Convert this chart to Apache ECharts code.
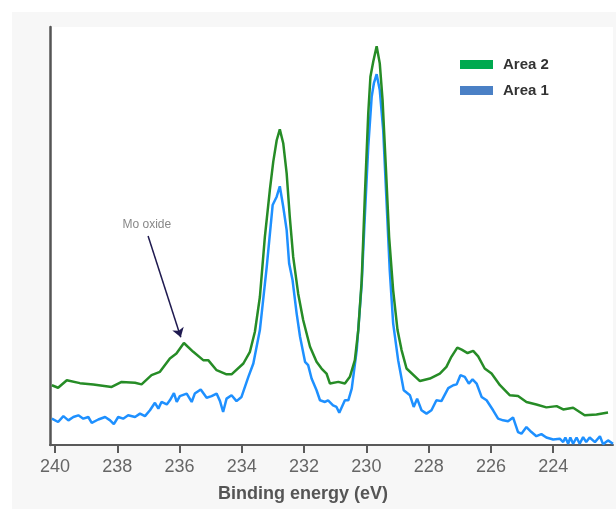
<!DOCTYPE html>
<html>
<head>
<meta charset="utf-8">
<script src="https://cdn.jsdelivr.net/npm/echarts@6/dist/echarts.min.js"></script>
<style>
  html, body { margin: 0; padding: 0; background: #fff; }
  #wrap { position: relative; width: 616px; height: 509px; background: #fff; }
  #chart { position: absolute; left: 12px; top: 12px; width: 604px; height: 497px; background: #f7f7f7; }
</style>
</head>
<body>
<div id="wrap"><div id="chart"></div></div>
<script>
// binding energy (eV) and intensity (arb. units)
const xArea2 = [240.1, 239.9, 239.62, 239.2, 238.77, 238.18, 237.86, 237.43, 237.22, 236.9, 236.63, 236.31, 236.1, 235.86, 235.56, 235.24, 235.08, 234.81, 234.49, 234.33, 233.95, 233.74, 233.58, 233.42, 233.26, 233.1, 232.99, 232.88, 232.78, 232.67, 232.56, 232.46, 232.35, 232.19, 232.03, 231.81, 231.6, 231.44, 231.28, 231.17, 230.9, 230.69, 230.53, 230.37, 230.26, 230.15, 230.05, 229.94, 229.87, 229.78, 229.67, 229.57, 229.48, 229.37, 229.27, 229.14, 229.0, 228.87, 228.71, 228.28, 227.96, 227.64, 227.43, 227.27, 227.08, 226.94, 226.75, 226.57, 226.41, 226.2, 225.98, 225.71, 225.39, 225.13, 224.86, 224.54, 224.22, 223.89, 223.68, 223.36, 222.99, 222.61, 222.24];
const yArea2 = [14.3, 13.7, 15.5, 14.8, 14.5, 13.9, 15.1, 14.9, 14.5, 16.7, 17.5, 20.7, 21.9, 24.4, 22.3, 20.3, 20.3, 17.9, 16.9, 16.9, 19.5, 22.3, 27.1, 35.4, 49.8, 61.0, 67.8, 72.9, 75.5, 72.2, 65.0, 54.6, 45.0, 36.2, 29.9, 23.5, 19.9, 18.3, 17.1, 14.7, 15.1, 14.7, 16.3, 20.3, 27.5, 39.4, 59.4, 79.3, 88.1, 91.7, 95.4, 91.3, 82.5, 65.8, 49.8, 37.0, 27.5, 22.7, 18.3, 15.3, 15.9, 17.1, 18.7, 21.1, 23.3, 22.8, 22.0, 22.5, 21.2, 18.3, 17.1, 14.3, 11.9, 11.7, 10.3, 9.7, 9.0, 9.3, 8.5, 8.9, 7.1, 7.3, 7.8];

const xArea1 = [240.1, 239.9, 239.73, 239.57, 239.41, 239.25, 239.09, 238.93, 238.82, 238.61, 238.39, 238.23, 238.11, 237.97, 237.81, 237.65, 237.43, 237.27, 237.11, 236.95, 236.79, 236.68, 236.58, 236.41, 236.31, 236.18, 236.09, 235.99, 235.77, 235.61, 235.51, 235.32, 235.13, 234.97, 234.81, 234.7, 234.6, 234.49, 234.33, 234.17, 234.01, 233.79, 233.63, 233.42, 233.2, 233.01, 232.88, 232.78, 232.67, 232.56, 232.48, 232.37, 232.24, 232.13, 231.97, 231.87, 231.76, 231.6, 231.49, 231.33, 231.23, 231.07, 230.96, 230.87, 230.69, 230.58, 230.47, 230.31, 230.15, 230.05, 229.94, 229.83, 229.76, 229.67, 229.57, 229.46, 229.35, 229.25, 229.14, 228.98, 228.8, 228.6, 228.48, 228.37, 228.23, 228.07, 227.91, 227.75, 227.59, 227.37, 227.21, 227.1, 226.98, 226.84, 226.71, 226.59, 226.46, 226.3, 226.14, 225.93, 225.77, 225.61, 225.45, 225.29, 225.13, 225.02, 224.86, 224.7, 224.54, 224.38, 224.22, 224.0, 223.79, 223.68, 223.61, 223.52, 223.45, 223.36, 223.25, 223.15, 223.04, 222.94, 222.83, 222.66, 222.5, 222.4, 222.24, 222.08];
const yArea1 = [6.3, 5.5, 6.9, 5.9, 6.7, 7.1, 6.3, 6.7, 5.3, 6.1, 6.7, 5.9, 5.0, 6.7, 6.3, 7.1, 6.7, 7.5, 6.9, 8.3, 10.1, 8.7, 10.3, 9.7, 10.7, 12.4, 10.3, 11.7, 12.3, 10.3, 12.3, 13.3, 11.3, 11.7, 12.3, 10.5, 7.9, 11.1, 11.9, 10.5, 11.5, 16.3, 19.5, 27.5, 42.6, 57.4, 59.4, 61.9, 57.0, 51.4, 43.4, 39.4, 31.5, 25.9, 19.9, 19.1, 15.9, 13.1, 10.7, 10.3, 10.7, 9.5, 9.1, 7.7, 10.7, 10.7, 13.5, 22.7, 38.6, 54.6, 71.3, 83.3, 86.5, 88.7, 84.9, 75.3, 57.8, 41.8, 29.1, 20.3, 13.1, 11.9, 9.1, 11.1, 8.3, 7.5, 8.3, 10.7, 10.5, 13.6, 14.3, 14.5, 16.7, 16.3, 14.7, 15.7, 14.7, 11.5, 10.7, 8.3, 6.3, 5.9, 5.7, 6.6, 3.1, 2.7, 4.3, 3.1, 2.1, 2.6, 1.8, 1.3, 1.5, 0.7, 1.8, 0.3, 1.8, 0.3, 1.8, 0.3, 1.9, 0.7, 1.8, 0.7, 2.1, 0.2, 1.1, 0.3];

const tickValues = [240, 238, 236, 234, 232, 230, 228, 226, 224];

// annotation: label point and arrow ends, in data units
const noteLabel = [237.05, 52.8];
const arrowFrom = [237.01, 50.0];
const arrowTo = [235.96, 25.8];

const pairs = (xs, ys) => xs.map((x, i) => [x, ys[i]]);

const chart = echarts.init(document.getElementById('chart'));

const option = {
  animation: false,
  textStyle: { fontFamily: 'Liberation Sans, Arial, sans-serif' },
  grid: {
    show: true,
    backgroundColor: '#ffffff',
    borderWidth: 0,
    left: 38,
    right: 3,
    top: 15,
    bottom: 64
  },
  legend: {
    orient: 'vertical',
    left: 448,
    top: 45,
    padding: 0,
    icon: 'rect',
    itemWidth: 33,
    itemHeight: 9,
    itemGap: 11,
    data: ['Area 2', 'Area 1'],
    textStyle: { fontSize: 15, fontWeight: 'bold', color: '#333', padding: [0, 0, 0, 5] }
  },
  xAxis: {
    type: 'value',
    inverse: true,
    min: 222.08,
    max: 240.16,
    splitLine: { show: false },
    axisLine: { show: true, lineStyle: { color: '#5a5a5a', width: 2 } },
    axisTick: { show: true, customValues: tickValues, length: 8, lineStyle: { color: '#5a5a5a', width: 2 } },
    axisLabel: { customValues: tickValues, fontSize: 18, color: '#666', margin: 13 }
  },
  yAxis: {
    type: 'value',
    min: 0,
    max: 100,
    splitLine: { show: false },
    axisLine: { show: true, lineStyle: { color: '#555', width: 2.5 } },
    axisTick: { show: false },
    axisLabel: { show: false }
  },
  graphic: [{
    type: 'text',
    x: 291,
    y: 482,
    style: {
      text: 'Binding energy (eV)',
      textAlign: 'center',
      textVerticalAlign: 'middle',
      font: 'bold 18px "Liberation Sans", Arial, sans-serif',
      fill: '#555'
    }
  }],
  series: [
    {
      name: 'Area 1',
      type: 'line',
      data: pairs(xArea1, yArea1),
      showSymbol: false,
      symbol: 'none',
      itemStyle: { color: '#4a80c5' },
      lineStyle: { color: '#1e90ff', width: 2.5 },
      clip: true
    },
    {
      name: 'Area 2',
      type: 'line',
      data: pairs(xArea2, yArea2),
      showSymbol: false,
      symbol: 'none',
      itemStyle: { color: '#00a94f' },
      lineStyle: { color: '#268c26', width: 2.5 },
      markLine: {
        silent: true,
        symbol: ['none', 'arrow'],
        symbolSize: 9,
        label: { show: false },
        lineStyle: { color: '#1f1a50', width: 1.5, type: 'solid' },
        data: [[{ coord: arrowFrom }, { coord: arrowTo }]]
      },
      markPoint: {
        silent: true,
        symbol: 'circle',
        symbolSize: 0,
        label: { show: true, position: 'inside', formatter: 'Mo oxide', fontSize: 12, color: '#888' },
        data: [{ coord: noteLabel }]
      }
    }
  ]
};

chart.setOption(option);
</script>
</body>
</html>
